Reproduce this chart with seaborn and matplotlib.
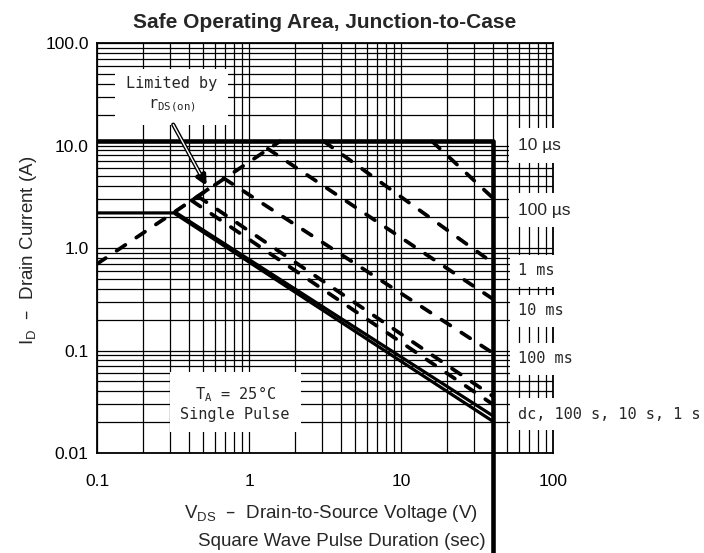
import numpy as np
import pandas as pd
import matplotlib
matplotlib.use('Agg')
import matplotlib.pyplot as plt
from matplotlib.ticker import LogLocator, NullFormatter
import seaborn as sns

# SOA outline: 11 A limit out to the 40 V rating (the 10 us curve)
box_v = [0.1, 40, 40]
box_i = [11, 11, 0.001]

# limited by rDS(on)
rds_v = [0.1, 1.6]
rds_i = [0.7, 11]
rds_bold_v = [0.42, 0.545]
rds_bold_i = [2.9, 3.8]

# pulse duration curves, drain voltage (V) vs drain current (A)
dc_v = [0.1, 0.32, 40]
dc_i = [2.2, 2.2, 0.0205]
s100_v = [0.38, 0.325, 40]
s100_i = [2.65, 2.25, 0.0232]
s10_v = [0.42, 40]
s10_i = [2.9, 0.030]
s1_v = [0.46, 40]
s1_i = [3.2, 0.036]
ms100_v = [0.68, 40]
ms100_i = [4.8, 0.095]
ms10_v = [1.33, 40]
ms10_i = [9.3, 0.32]
ms1_v = [3.1, 40]
ms1_i = [11, 0.72]
us100_v = [16, 40]
us100_i = [11, 3.1]

curve_labels = ['10 \u00b5s', '100 \u00b5s', '1 ms', '10 ms', '100 ms', 'dc, 100 s, 10 s, 1 s']
label_i = [10, 2.33, 0.60, 0.245, 0.083, 0.024]
label_v = 59

x_ticks = [0.1, 1, 10, 100]
x_ticklabels = ['0.1', '1', '10', '100']
y_ticks = [0.01, 0.1, 1, 10, 100]
y_ticklabels = ['0.01', '0.1', '1.0', '10.0', '100.0']

sns.set_theme(style='white')
plt.rcParams['font.family'] = ['Liberation Sans', 'DejaVu Sans']
plt.rcParams['mathtext.default'] = 'regular'

fig = plt.figure(figsize=(7.04, 5.53), dpi=100)
ax = fig.add_axes([0.1378, 0.1808, 0.6477, 0.7414])
ax.set_xscale('log')
ax.set_yscale('log')

dash = (0, (2.8, 3.5))


def curve(v, i, lw=2.3, ls='-'):
    sns.lineplot(x=v, y=i, ax=ax, color='black', lw=lw, linestyle=ls,
                 estimator=None, sort=False, legend=False,
                 dash_capstyle='round', solid_capstyle='butt')
    return ax.lines[-1]


ln = curve(box_v, box_i, lw=3.3)
ln.set_clip_on(False)
curve(rds_v, rds_i, lw=2.7, ls=dash)
curve(rds_bold_v, rds_bold_i, lw=2.7)
curve(dc_v, dc_i)
curve(s100_v, s100_i)
curve(s10_v, s10_i, lw=2.7, ls=dash)
curve(s1_v, s1_i, lw=2.7, ls=dash)
curve(ms100_v, ms100_i, lw=2.7, ls=dash)
curve(ms10_v, ms10_i, lw=2.7, ls=dash)
curve(ms1_v, ms1_i, lw=2.7, ls=dash)
curve(us100_v, us100_i, lw=2.7, ls=dash)

ax.set_xlim(0.1, 100)
ax.set_ylim(0.01, 100)
ax.xaxis.set_minor_locator(LogLocator(base=10, subs=range(2, 10)))
ax.yaxis.set_minor_locator(LogLocator(base=10, subs=range(2, 10)))
ax.xaxis.set_minor_formatter(NullFormatter())
ax.yaxis.set_minor_formatter(NullFormatter())
ax.set_xticks(x_ticks)
ax.set_xticklabels(x_ticklabels)
ax.set_yticks(y_ticks)
ax.set_yticklabels(y_ticklabels)
ax.grid(True, which='both', color='black', lw=0.9)
ax.tick_params(which='both', length=0, labelsize=12.5, colors='black')
ax.tick_params(axis='x', pad=15)
ax.tick_params(axis='y', pad=6)
for s in ax.spines.values():
    s.set_color('black')
    s.set_linewidth(1.3)

mono = ['DejaVu Sans Mono', 'DejaVu Sans']
sans = ['Liberation Sans', 'DejaVu Sans']
box = dict(boxstyle='square,pad=0.55', fc='white', ec='none')
for txt, yy in zip(curve_labels, label_i):
    if '\u00b5' in txt:
        fam, fs = sans, 12.5
    else:
        fam, fs = mono, 11
    ax.text(label_v, yy, txt, ha='left', va='center', fontsize=fs,
            family=fam, bbox=box, clip_on=False, zorder=3)

ax.text(0.164, 0.873, 'Limited by\nr$_{DS(on)}$', transform=ax.transAxes,
        ha='center', va='center', fontsize=11, family=mono, linespacing=1.4,
        bbox=dict(boxstyle='square,pad=0.7', fc='white', ec='none'), zorder=3)
ax.text(0.303, 0.122, 'T$_A$ = 25\u00b0C\nSingle Pulse', transform=ax.transAxes,
        ha='center', va='center', fontsize=11, family=mono, linespacing=1.2,
        bbox=dict(boxstyle='square,pad=0.7', fc='white', ec='none'), zorder=3)

ax.annotate('', xy=(0.537, 3.82), xytext=(0.311, 16.9),
            arrowprops=dict(arrowstyle='-|>', color='black', lw=3,
                            mutation_scale=14), zorder=4)
ax.annotate('', xy=(0.537, 3.82), xytext=(0.311, 16.9),
            arrowprops=dict(arrowstyle='-', color='white', lw=1,
                            shrinkA=2, shrinkB=12), zorder=5)

ax.set_title('Safe Operating Area, Junction-to-Case', fontsize=15,
             fontweight='bold', pad=11)
fig.text(0.470, 0.0723, 'V$_{DS}$  \u2013  Drain-to-Source Voltage (V)',
         ha='center', va='center', fontsize=13.5)
fig.text(0.486, 0.0199, 'Square Wave Pulse Duration (sec)',
         ha='center', va='center', fontsize=13.5)
fig.text(0.040, 0.548, 'I$_D$  \u2013  Drain Current (A)', rotation=90,
         ha='center', va='center', fontsize=13.5)

fig.savefig('out.png', dpi=100)
